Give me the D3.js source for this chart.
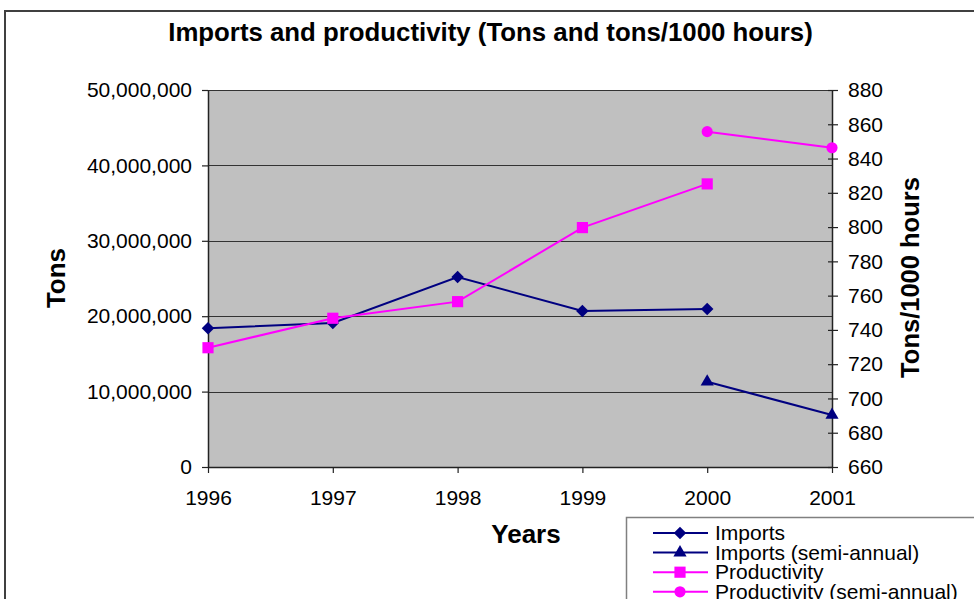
<!DOCTYPE html>
<html>
<head>
<meta charset="utf-8">
<title>Imports and productivity</title>
<script src="https://cdn.jsdelivr.net/npm/d3@7"></script>
<style>
  body { margin: 0; background: #fff; }
  svg { display: block; font-family: "Liberation Sans", Arial, sans-serif; }
</style>
</head>
<body>
<div id="chart"></div>
<script>
/*global d3:true */

var years = ["1996", "1997", "1998", "1999", "2000", "2001"];

// tons, left axis
var imports = [18400000, 19100000, 25200000, 20700000, 20950000, null];
var importsSemi = [null, null, null, null, 11300000, 6900000];

// tons/1000 hours, right axis
var productivity = [729.6, 746.8, 756.5, 799.7, 825.2, null];
var productivitySemi = [null, null, null, null, 855.7, 846.3];

var tonsTicks = [0, 10000000, 20000000, 30000000, 40000000, 50000000];
var rateTicks = [660, 680, 700, 720, 740, 760, 780, 800, 820, 840, 860, 880];

var legendLabels = ["Imports", "Imports (semi-annual)", "Productivity", "Productivity (semi-annual)"];

(function () {
  var width = 974,
    height = 599,
    left = 208,
    right = 832,
    top = 90,
    bottom = 467,
    navy = "#000080",
    pink = "#ff00ff";

  var svg = d3.select("#chart").append("svg")
    .attr("width", width)
    .attr("height", height);

  // outer chart frame (runs off the right and bottom)
  svg.append("rect")
    .attr("x", 5).attr("y", 11)
    .attr("width", 1200).attr("height", 1200)
    .attr("fill", "#fff")
    .attr("stroke", "#404040")
    .attr("stroke-width", 2);

  svg.append("text")
    .attr("x", 490.5).attr("y", 41)
    .attr("text-anchor", "middle")
    .style("font-size", "25.8px")
    .style("font-weight", "bold")
    .text("Imports and productivity (Tons and tons/1000 hours)");

  var x = d3.scalePoint().domain(years).range([left, right]),
    yTons = d3.scaleLinear().domain([0, 50000000]).range([bottom, top]),
    yRate = d3.scaleLinear().domain([660, 880]).range([bottom, top]);

  svg.append("rect")
    .attr("x", left).attr("y", top)
    .attr("width", right - left).attr("height", bottom - top)
    .attr("fill", "#c0c0c0");

  svg.append("g").selectAll("line")
    .data(tonsTicks)
    .join("line")
    .attr("x1", left).attr("x2", right)
    .attr("y1", function (d) { return Math.round(yTons(d)) + 0.5; })
    .attr("y2", function (d) { return Math.round(yTons(d)) + 0.5; })
    .attr("stroke", "#333")
    .attr("stroke-width", 1);

  var axisStyle = function (g) {
    g.select(".domain").attr("stroke", "#222").attr("stroke-width", 1.5);
    g.selectAll(".tick line").attr("stroke", "#222").attr("stroke-width", 1.2);
    g.selectAll("text").attr("fill", "#000").style("font-size", "21px").attr("font-family", null);
  };

  svg.append("g")
    .attr("transform", "translate(" + left + ",0)")
    .call(d3.axisLeft(yTons).tickValues(tonsTicks).tickFormat(d3.format(","))
      .tickSize(6).tickSizeOuter(0).tickPadding(10))
    .call(axisStyle);

  svg.append("g")
    .attr("transform", "translate(" + right + ",0)")
    .call(d3.axisRight(yRate).tickValues(rateTicks)
      .tickSize(6).tickSizeOuter(0).tickPadding(10))
    .call(axisStyle)
    .call(function (g) { g.selectAll(".tick line").attr("x1", -4); });

  svg.append("g")
    .attr("transform", "translate(0," + bottom + ")")
    .call(d3.axisBottom(x).tickSize(6).tickSizeOuter(0).tickPadding(17))
    .call(axisStyle);

  svg.append("text")
    .attr("x", 526).attr("y", 543)
    .attr("text-anchor", "middle")
    .style("font-size", "26px")
    .style("font-weight", "bold")
    .text("Years");

  svg.append("text")
    .attr("transform", "translate(65,278) rotate(-90)")
    .attr("text-anchor", "middle")
    .style("font-size", "26px")
    .style("font-weight", "bold")
    .text("Tons");

  svg.append("text")
    .attr("transform", "translate(919,277.5) rotate(-90)")
    .attr("text-anchor", "middle")
    .style("font-size", "25.5px")
    .style("font-weight", "bold")
    .text("Tons/1000 hours");

  var series = [
    {values: imports, y: yTons, color: navy, symbol: d3.symbolSquare, size: 78, rotate: 45},
    {values: importsSemi, y: yTons, color: navy, symbol: d3.symbolTriangle, size: 75, rotate: 0},
    {values: productivity, y: yRate, color: pink, symbol: d3.symbolSquare, size: 125, rotate: 0},
    {values: productivitySemi, y: yRate, color: pink, symbol: d3.symbolCircle, size: 98, rotate: 0}
  ];

  var plot = svg.append("g");

  series.forEach(function (s) {
    var pts = s.values.map(function (v, i) { return {year: years[i], value: v}; });

    plot.append("path")
      .datum(pts)
      .attr("fill", "none")
      .attr("stroke", s.color)
      .attr("stroke-width", 2)
      .attr("d", d3.line()
        .defined(function (d) { return d.value !== null; })
        .x(function (d) { return x(d.year); })
        .y(function (d) { return s.y(d.value); }));

    plot.append("g").selectAll("path")
      .data(pts.filter(function (d) { return d.value !== null; }))
      .join("path")
      .attr("transform", function (d) {
        return "translate(" + x(d.year) + "," + s.y(d.value) + ") rotate(" + s.rotate + ")";
      })
      .attr("d", d3.symbol(s.symbol, s.size))
      .attr("fill", s.color);
  });

  // legend
  var legend = svg.append("g");

  legend.append("rect")
    .attr("x", 626.5).attr("y", 517.5)
    .attr("width", 500).attr("height", 200)
    .attr("fill", "#fff")
    .attr("stroke", "#808080")
    .attr("stroke-width", 1.5);

  var rows = legend.selectAll("g.row")
    .data(series)
    .join("g")
    .attr("class", "row")
    .attr("transform", function (d, i) { return "translate(0," + (533 + i * 19.6) + ")"; });

  rows.append("line")
    .attr("x1", 653).attr("x2", 708)
    .attr("stroke", function (d) { return d.color; })
    .attr("stroke-width", 2);

  rows.append("path")
    .attr("transform", function (d) { return "translate(680,0) rotate(" + d.rotate + ")"; })
    .attr("d", function (d) { return d3.symbol(d.symbol, d.size)(); })
    .attr("fill", function (d) { return d.color; });

  rows.append("text")
    .attr("x", 715).attr("y", 7)
    .style("font-size", "21px")
    .text(function (d, i) { return legendLabels[i]; });
}());
</script>
</body>
</html>
